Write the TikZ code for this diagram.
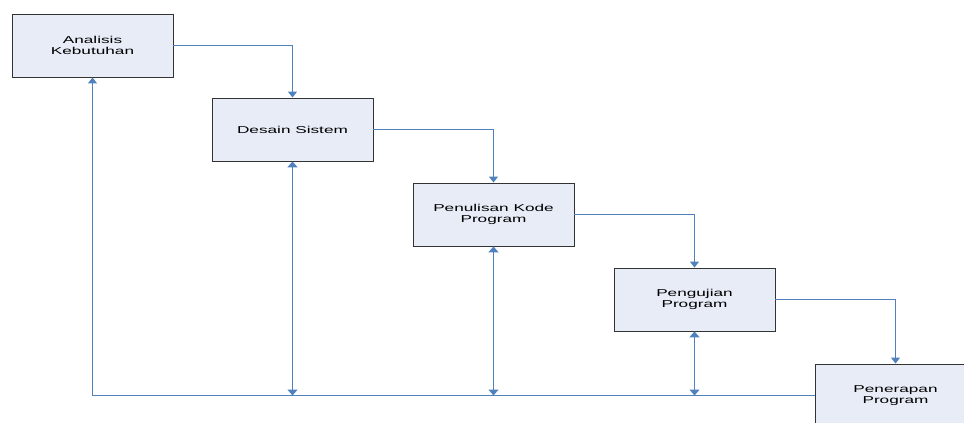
\documentclass[tikz,border=0pt]{standalone}
\usepackage{fontspec}
\setmainfont{Liberation Sans}
\newfontfamily\widesans[FakeStretch=1.72]{Liberation Sans}
\usetikzlibrary{arrows.meta}
\definecolor{lineblue}{HTML}{4F81BD}
\definecolor{boxfill}{HTML}{E7ECF7}
\begin{document}
\begin{tikzpicture}[x=1pt,y=-1pt,
  stagebox/.style={draw=black!80, line width=0.9pt, fill=boxfill, minimum width=161pt, minimum height=63pt, inner sep=0pt, align=center, font=\widesans\fontsize{10}{11}\selectfont},
  flow/.style={draw=lineblue, line width=1pt, -{Triangle[width=9pt,length=6pt]}},
  back/.style={draw=lineblue, line width=1.8pt, {Triangle[width=10pt,length=6pt]}-{Triangle[width=10pt,length=6pt]}}]
\useasboundingbox (0,0) rectangle (964,423);
\node[stagebox] (a) at (92.5,45.5) {Analisis\\Kebutuhan};
\node[stagebox] (b) at (292.5,129.5) {Desain Sistem};
\node[stagebox] (c) at (493.5,214.5) {Penulisan Kode\\Program};
\node[stagebox] (d) at (694.5,299.5) {Pengujian\\Program};
\node[stagebox] (e) at (895.5,395.5) {Penerapan\\Program};
\draw[flow] (a.east) -| (b.north);
\draw[flow] (b.east) -| (c.north);
\draw[flow] (c.east) -| (d.north);
\draw[flow] (d.east) -| (e.north);
\draw[flow] (e.west) -| (a.south);
\coordinate (jb) at (b.south |- e.west);
\coordinate (jc) at (c.south |- e.west);
\coordinate (jd) at (d.south |- e.west);
\draw[back] (b.south) -- (jb);
\draw[back] (c.south) -- (jc);
\draw[back] (d.south) -- (jd);
\end{tikzpicture}
\end{document}
